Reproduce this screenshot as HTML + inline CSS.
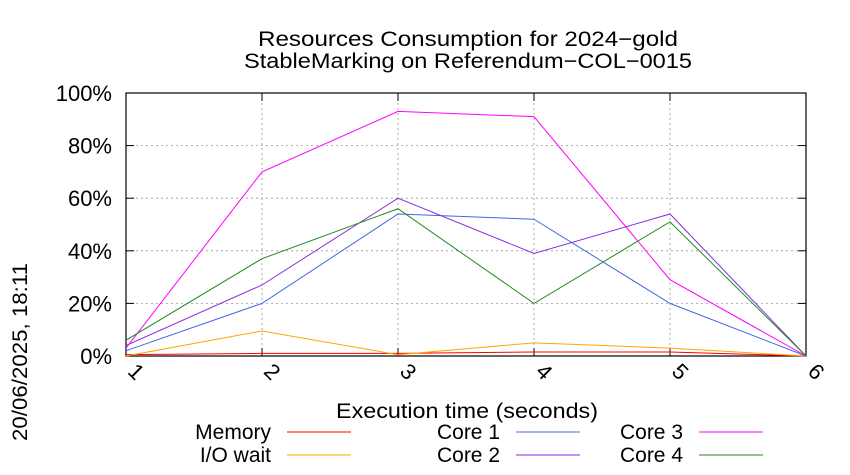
<!DOCTYPE html>
<html><head><meta charset="utf-8"><style>
body{margin:0;background:#fff;}
svg{display:block;font-family:"Liberation Sans",sans-serif;}
</style></head><body>
<svg id="chart" width="850" height="475">
<g id="grid"></g>
<rect x="126" y="93" width="680" height="263" fill="none" stroke="#000" stroke-width="1.2"/>
<g id="axes"></g>
<g id="series"></g>
<text x="468" y="46" font-size="21" text-anchor="middle" textLength="420" lengthAdjust="spacingAndGlyphs">Resources Consumption for 2024−gold</text>
<text x="468" y="68" font-size="21" text-anchor="middle" textLength="448" lengthAdjust="spacingAndGlyphs">StableMarking on Referendum−COL−0015</text>
<text x="467" y="418" font-size="21" text-anchor="middle" textLength="262" lengthAdjust="spacingAndGlyphs">Execution time (seconds)</text>
<text transform="translate(27,352) rotate(-90)" font-size="21" text-anchor="middle" textLength="178" lengthAdjust="spacingAndGlyphs">20/06/2025, 18:11</text>
<g id="legend"></g>
</svg>
<script>
const categories=[1,2,3,4,5,6];
const yTicks=[0,20,40,60,80,100];
const seriesNames=["Memory","I/O wait","Core 1","Core 2","Core 3","Core 4"];
const seriesColors=["#ff0000","#ffa500","#4169e1","#8a2be2","#ff00ff","#228b22"];
const memory=[0.5,1,1,1.5,1.5,0];
const ioWait=[0,9.5,0.5,5,3,0];
const core1=[2,20,54,52,20,0];
const core2=[4,27,60,39,54,0];
const core3=[3,70,93,91,29,0];
const core4=[6,37,56,20,51,0];
const allSeries=[memory,ioWait,core1,core2,core3,core4];
const NS="http://www.w3.org/2000/svg";
const X0=126,X1=806,Y0=356,Y1=93;
const xs=v=>X0+(v-1)/(5)*(X1-X0);
const ys=v=>Y0-v/100*(Y0-Y1);
function mk(t,a,p){const e=document.createElementNS(NS,t);for(const k in a)e.setAttribute(k,a[k]);p.appendChild(e);return e;}
const grid=document.getElementById('grid'),axes=document.getElementById('axes'),ser=document.getElementById('series'),leg=document.getElementById('legend');
yTicks.forEach(t=>{
 const y=ys(t);
 if(t>0&&t<100){const g=mk('line',{x1:X0,x2:X1,y1:y,y2:y,stroke:'#999','stroke-dasharray':'2,3','stroke-width':0.8},grid);
 
 }
 const tk=mk('line',{x1:X0,x2:X0+8,y1:y,y2:y,stroke:'#000'},axes);
 
 
 mk('line',{x1:X1-8,x2:X1,y1:y,y2:y,stroke:'#000'},axes);
 const l=mk('text',{x:112,y:y+8,'font-size':22,'text-anchor':'end'},axes);l.textContent=t+'%';
 
 
});
categories.forEach(c=>{
 const x=xs(c);
 if(c>1&&c<6){const g=mk('line',{x1:x,x2:x,y1:Y1,y2:Y0,stroke:'#999','stroke-dasharray':'2,3','stroke-width':0.8},grid);
 
 }
 const tk=mk('line',{x1:x,x2:x,y1:Y0,y2:Y0-8,stroke:'#000'},axes);
 
 
 mk('line',{x1:x,x2:x,y1:Y1,y2:Y1+8,stroke:'#000'},axes);
 const l=mk('text',{transform:`translate(${x+5},${Y0+21}) rotate(45)`,'font-size':22,'text-anchor':'middle'},axes);l.textContent=c;
 
 
});
allSeries.forEach((d,i)=>{
 const p=mk('polyline',{points:d.map((v,j)=>xs(categories[j])+','+ys(v)).join(' '),fill:'none',stroke:seriesColors[i],'stroke-width':1},ser);
 
 
});
const legPos=[[271,432],[271,455],[500,432],[500,455],[683,432],[683,455]];
seriesNames.forEach((n,i)=>{
 const [x,y]=legPos[i];
 const t=mk('text',{x:x,y:y+7,'font-size':21,'text-anchor':'end'},leg);t.textContent=n;
 
 
 const l=mk('line',{x1:x+16,x2:x+80,y1:y,y2:y,stroke:seriesColors[i]},leg);
 
 
});
</script>
</body></html>
